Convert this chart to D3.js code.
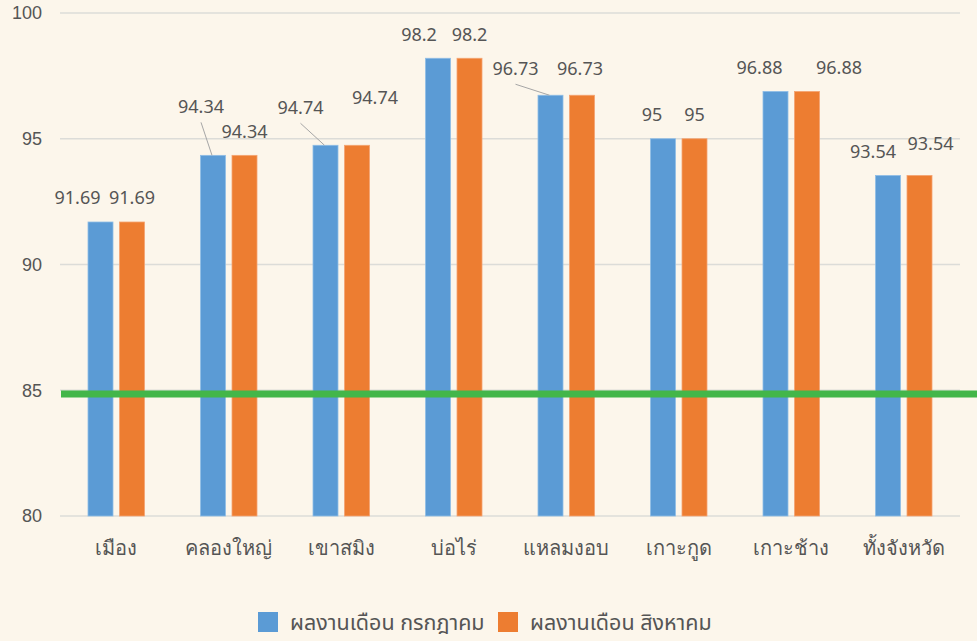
<!DOCTYPE html>
<html>
<head>
<meta charset="utf-8">
<script src="https://cdn.jsdelivr.net/npm/d3@7"></script>
<style>
  html, body { margin: 0; padding: 0; background: #fcf6eb; }
  svg { display: block; font-family: Tahoma, "Noto Sans Thai", "Loma", "Garuda", "Noto Sans", sans-serif; }
</style>
</head>
<body>
<div id="chart"></div>
<script>
// data
const districts = ["เมือง", "คลองใหญ่", "เขาสมิง", "บ่อไร่", "แหลมงอบ", "เกาะกูด", "เกาะช้าง", "ทั้งจังหวัด"];
const julyValues = [91.69, 94.34, 94.74, 98.2, 96.73, 95, 96.88, 93.54];
const augValues  = [91.69, 94.34, 94.74, 98.2, 96.73, 95, 96.88, 93.54];
const seriesNames = ["ผลงานเดือน กรกฎาคม", "ผลงานเดือน สิงหาคม"];
const yTicks = [80, 85, 90, 95, 100];
const targetValue = 84.85;

// label nudges (dx, dy) where the original moved them by hand
const julyNudge = [[-23, 0], [-12, -25], [-25, -14], [-19, 0], [-35, -3], [-11, 0], [-16, 0], [-15, 0]];
const augNudge  = [[0, 0], [0, 0], [18, -24], [0, 0], [-2, -3], [0, 0], [32, 0], [11, -8]];
const julyLeader = [false, true, true, false, true, false, false, false];

const width = 977;
const height = 641;
const margin = { top: 13, right: 17, bottom: 125, left: 60 };
const innerW = width - margin.left - margin.right;
const innerH = height - margin.top - margin.bottom;

const colors = ["#5b9bd5", "#ed7d31"];
const textColor = "#555555";

const svg = d3.select("#chart").append("svg")
  .attr("width", width)
  .attr("height", height);

svg.append("rect").attr("width", width).attr("height", height).attr("fill", "#fcf6eb");

const g = svg.append("g").attr("transform", `translate(${margin.left},${margin.top})`);

const x = d3.scaleBand().domain(districts).range([0, innerW]).padding(0);
const y = d3.scaleLinear().domain([80, 100]).range([innerH, 0]);

const barW = 25;
const barOff = 15.75;

// gridlines
g.selectAll("line.grid")
  .data(yTicks)
  .join("line")
  .attr("class", "grid")
  .attr("x1", 0)
  .attr("x2", innerW)
  .attr("y1", d => y(d))
  .attr("y2", d => y(d))
  .attr("stroke", "#dcdcd8")
  .attr("stroke-width", 1.5);

// y axis labels
const gy = g.append("g").call(d3.axisLeft(y).tickValues(yTicks).tickSize(0).tickPadding(18));
gy.select(".domain").remove();
gy.selectAll("text")
  .attr("font-size", 18)
  .attr("fill", textColor)
  .attr("font-family", null);

// x axis labels
const gx = g.append("g").attr("transform", `translate(0,${innerH})`)
  .call(d3.axisBottom(x).tickSize(0).tickPadding(25));
gx.select(".domain").remove();
gx.selectAll("text")
  .attr("font-size", 20)
  .attr("fill", textColor)
  .attr("font-family", null);

// bars
const series = [julyValues, augValues];
series.forEach((vals, s) => {
  const off = s === 0 ? -barOff : barOff;
  g.selectAll(`rect.bar${s}`)
    .data(vals)
    .join("rect")
    .attr("class", `bar${s}`)
    .attr("x", (d, i) => x(districts[i]) + x.bandwidth() / 2 + off - barW / 2)
    .attr("y", d => y(d))
    .attr("width", barW)
    .attr("height", d => innerH - y(d))
    .attr("fill", colors[s])
    .attr("stroke", s === 0 ? "#8fbde6" : "#f4a472")
    .attr("stroke-width", 0.8);
});

// target line
svg.append("line")
  .attr("x1", margin.left + 1)
  .attr("x2", width)
  .attr("y1", margin.top + y(targetValue))
  .attr("y2", margin.top + y(targetValue))
  .attr("stroke", "#43b649")
  .attr("stroke-width", 7);

// value labels + leader lines
series.forEach((vals, s) => {
  const off = s === 0 ? -barOff : barOff;
  const nudge = s === 0 ? julyNudge : augNudge;
  vals.forEach((v, i) => {
    const bx = x(districts[i]) + x.bandwidth() / 2 + off;
    const by = y(v);
    const lx = bx + nudge[i][0];
    const ly = by - 24 + nudge[i][1];
    if (s === 0 && julyLeader[i]) {
      g.append("line")
        .attr("x1", lx)
        .attr("y1", ly + 16)
        .attr("x2", bx - 1)
        .attr("y2", by)
        .attr("stroke", "#a6a6a6")
        .attr("stroke-width", 1);
    }
    g.append("text")
      .attr("x", lx)
      .attr("y", ly)
      .attr("dy", "0.35em")
      .attr("text-anchor", "middle")
      .attr("font-size", 18)
      .attr("fill", textColor)
      .text(v);
  });
});

// legend
const lg = svg.append("g").attr("transform", "translate(258, 622)");
const items = [{ name: seriesNames[0], c: colors[0], x: 0 }, { name: seriesNames[1], c: colors[1], x: 240 }];
items.forEach(it => {
  lg.append("rect").attr("x", it.x).attr("y", -10).attr("width", 20).attr("height", 20).attr("fill", it.c);
  lg.append("text")
    .attr("x", it.x + 32)
    .attr("y", 0)
    .attr("dy", "0.35em")
    .attr("font-size", 21.5)
    .attr("fill", textColor)
    .text(it.name);
});
</script>
</body>
</html>
